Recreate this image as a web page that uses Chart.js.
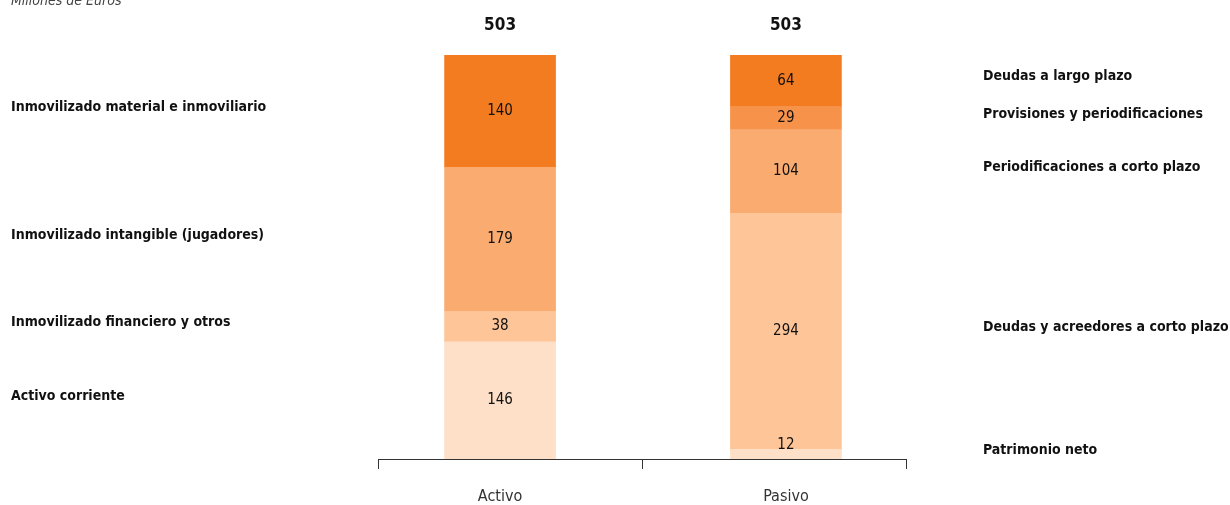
<!DOCTYPE html>
<html>
<head>
<meta charset="utf-8">
<script src="https://cdn.jsdelivr.net/npm/chart.js@4/dist/chart.umd.min.js"></script>
<style>
  html, body { margin: 0; padding: 0; background: #fff; }
</style>
</head>
<body>
<canvas id="balanceChart" width="1230" height="505"></canvas>
<script>
const categories = ['Activo', 'Pasivo'];

// segments, bottom to top, grouped by shade
const corriente = [146, 12];
const financiero = [38, 294];
const intangible = [179, 104];
const provisiones = [null, 29];
const material = [140, 64];

const activoLabels = ['Activo corriente', 'Inmovilizado financiero y otros', 'Inmovilizado intangible (jugadores)', null, 'Inmovilizado material e inmoviliario'];
const pasivoLabels = ['Patrimonio neto', 'Deudas y acreedores a corto plazo', 'Periodificaciones a corto plazo', 'Provisiones y periodificaciones', 'Deudas a largo plazo'];

const totals = [503, 503];

const FONT = "'Liberation Sans Narrow', 'DejaVu Sans Condensed', 'Roboto Condensed', 'Noto Sans', sans-serif";
const shades = ['#FDE0C7', '#FDC598', '#F9AB70', '#F7924A', '#F47C20'];
const series = [corriente, financiero, intangible, provisiones, material];

const toPoints = arr => arr.map((v, i) => ({ x: i, y: v }));

const sideLabels = {
    id: 'sideLabels',
    afterDatasetsDraw(chart) {
        const ctx = chart.ctx;
        const yScale = chart.scales.y;
        const xScale = chart.scales.x;
        ctx.save();
        ctx.textBaseline = 'middle';

        chart.data.datasets.forEach((ds, di) => {
            chart.getDatasetMeta(di).data.forEach((bar, i) => {
                const v = ds.data[i].y;
                if (v == null) return;
                let mid = (bar.y + bar.base) / 2;
                // thin segment: value sits on its top edge
                if (bar.base - bar.y < 15) mid = bar.y - 4;
                ctx.fillStyle = '#111';
                ctx.font = '15px ' + FONT;
                ctx.textAlign = 'center';
                ctx.fillText(String(v), bar.x, mid);

                const labelY = (bar.y + bar.base) / 2 - 4;
                ctx.font = 'bold 14px ' + FONT;
                ctx.textAlign = 'left';
                if (i === 0 && activoLabels[di]) ctx.fillText(activoLabels[di], 11, labelY);
                if (i === 1 && pasivoLabels[di]) ctx.fillText(pasivoLabels[di], 983, labelY);
            });
        });

        // totals above the bars
        ctx.font = 'bold 17px ' + FONT;
        ctx.textAlign = 'center';
        ctx.fillStyle = '#111';
        totals.forEach((t, i) => {
            ctx.fillText(String(t), xScale.getPixelForValue(i), yScale.getPixelForValue(t) - 29);
        });

        // axis line with ticks
        const a = chart.chartArea;
        ctx.strokeStyle = '#333';
        ctx.lineWidth = 1;
        ctx.beginPath();
        ctx.moveTo(a.left, a.bottom + 0.5);
        ctx.lineTo(a.right, a.bottom + 0.5);
        [a.left, (a.left + a.right) / 2, a.right].forEach(px => {
            const x = Math.round(px) + 0.5;
            ctx.moveTo(x, a.bottom);
            ctx.lineTo(x, a.bottom + 10);
        });
        ctx.stroke();

        // unit note, partly cut off at the top
        ctx.font = 'italic 14px ' + FONT;
        ctx.fillStyle = '#444';
        ctx.textAlign = 'left';
        ctx.textBaseline = 'alphabetic';
        ctx.fillText('Millones de Euros', 11, 5);
        ctx.restore();
    }
};

new Chart(document.getElementById('balanceChart'), {
    type: 'bar',
    data: {
        datasets: series.map((s, k) => ({
            data: toPoints(s),
            backgroundColor: shades[k],
            borderWidth: 0,
            barThickness: 111,
        })),
    },
    options: {
        responsive: false,
        animation: false,
        layout: { padding: { left: 378, right: 324, top: 55, bottom: 0 } },
        plugins: { legend: { display: false }, tooltip: { enabled: false } },
        scales: {
            x: {
                type: 'linear',
                stacked: true,
                offset: false,
                bounds: 'data',
                min: -0.427,
                max: 1.42,
                grid: { display: false },
                border: { display: false },
                afterBuildTicks: scale => { scale.ticks = categories.map((c, i) => ({ value: i })); },
                afterFit: scale => { scale.height = 46; },
                ticks: {
                    padding: 20,
                    maxRotation: 0,
                    color: '#333',
                    font: { family: FONT, size: 16 },
                    callback: v => categories[v],
                },
            },
            y: {
                stacked: true,
                min: 0,
                max: 503,
                display: false,
            },
        },
    },
    plugins: [sideLabels],
});
</script>
</body>
</html>
